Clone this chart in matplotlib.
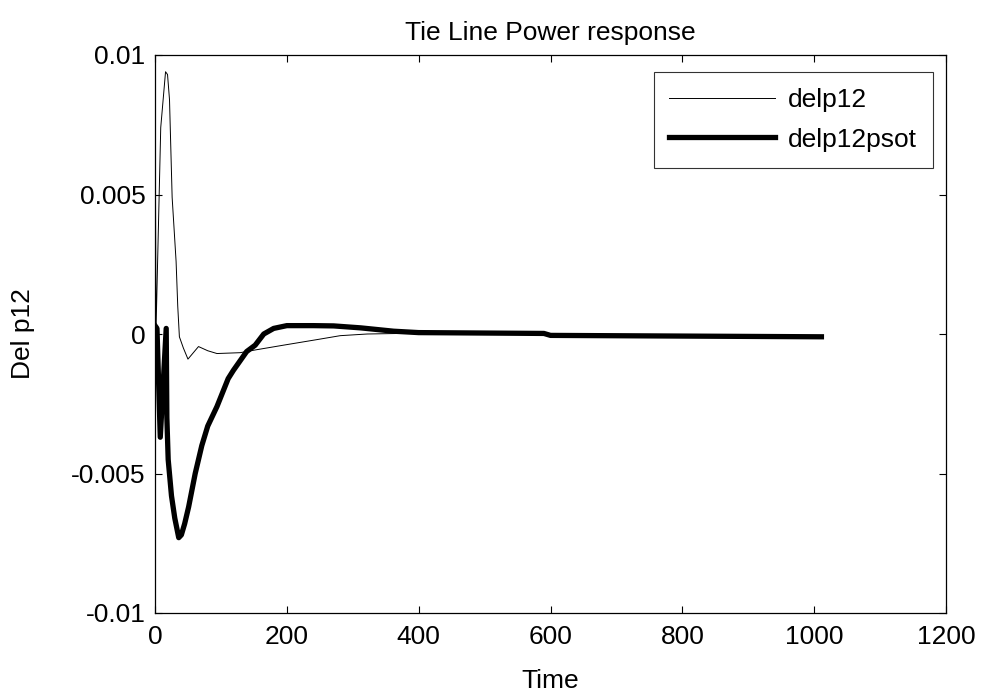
import matplotlib
matplotlib.use('Agg')
import matplotlib.pyplot as plt

plt.rcParams['font.family'] = ['Liberation Sans', 'DejaVu Sans']

# delp12 (thin trace)
t_delp12 = [0, 0.4, 1.5, 8.7, 16, 19, 22, 26, 32, 34.5, 37, 43, 50, 66, 80,
            94, 129, 155, 195, 246, 281, 322, 373, 400, 590, 600, 1011]
delp12 = [0.0, 0.0072, 0.0001, 0.0074, 0.0094, 0.0093, 0.0084, 0.0049, 0.0026,
          0.0010, -0.0001, -0.0005, -0.0009, -0.00045, -0.0006, -0.0007,
          -0.00067, -0.00056, -0.0004, -0.0002, -0.00006, 0.0, 0.00002,
          0.00003, 0.00001, -0.00005, -0.0001]

# delp12psot (thick trace)
t_psot = [0, 3, 8, 17, 18, 20, 25, 30, 36, 40, 45, 51, 61, 71, 80, 94, 111,
          119, 139, 152, 165, 180, 200, 240, 271, 312, 362, 400, 590, 600, 1011]
delp12psot = [0.0003, 0.0002, -0.0037, 0.0002, -0.0030, -0.0045, -0.0058,
              -0.0066, -0.0073, -0.0072, -0.0068, -0.0062, -0.0050, -0.0040,
              -0.0033, -0.0026, -0.0016, -0.0013, -0.00063, -0.0004, 0.0,
              0.0002, 0.0003, 0.0003, 0.00029, 0.00022, 0.0001, 0.00005,
              0.00002, -0.00005, -0.0001]

xticks = [0, 200, 400, 600, 800, 1000, 1200]
yticks = [-0.01, -0.005, 0, 0.005, 0.01]
yticklabels = ['-0.01', '-0.005', '0', '0.005', '0.01']

fs = 19

fig = plt.figure(figsize=(9.84, 6.96), dpi=100)
ax = fig.add_axes([155 / 984, 1 - 613 / 696, 791 / 984, 558 / 696])

ax.plot(t_delp12, delp12, color='black', linewidth=0.7, label='delp12')
ax.plot(t_psot, delp12psot, color='black', linewidth=3.8, label='delp12psot',
        solid_joinstyle='round')

ax.set_xlim(0, 1200)
ax.set_ylim(-0.01, 0.01)
ax.set_xticks(xticks)
ax.set_yticks(yticks)
ax.set_yticklabels(yticklabels)
ax.tick_params(axis='both', direction='in', length=5, width=0.8, top=True,
               right=True, labelsize=fs)
ax.tick_params(axis='x', pad=9)
ax.tick_params(axis='y', pad=7)
for s in ax.spines.values():
    s.set_linewidth(0.9)

ax.set_title('Tie Line Power response', fontsize=fs, pad=11)
ax.set_xlabel('Time', fontsize=fs, labelpad=14)
ax.set_ylabel('Del p12', fontsize=fs, labelpad=26)

leg = ax.legend(loc='upper right', bbox_to_anchor=(0.9836, 0.9695),
                borderaxespad=0, fontsize=fs, frameon=True, fancybox=False,
                edgecolor='black', handlelength=4.0, handletextpad=0.5,
                labelspacing=0.6, borderpad=0.6)
leg.get_frame().set_linewidth(0.8)

fig.savefig('out.png', dpi=100)
